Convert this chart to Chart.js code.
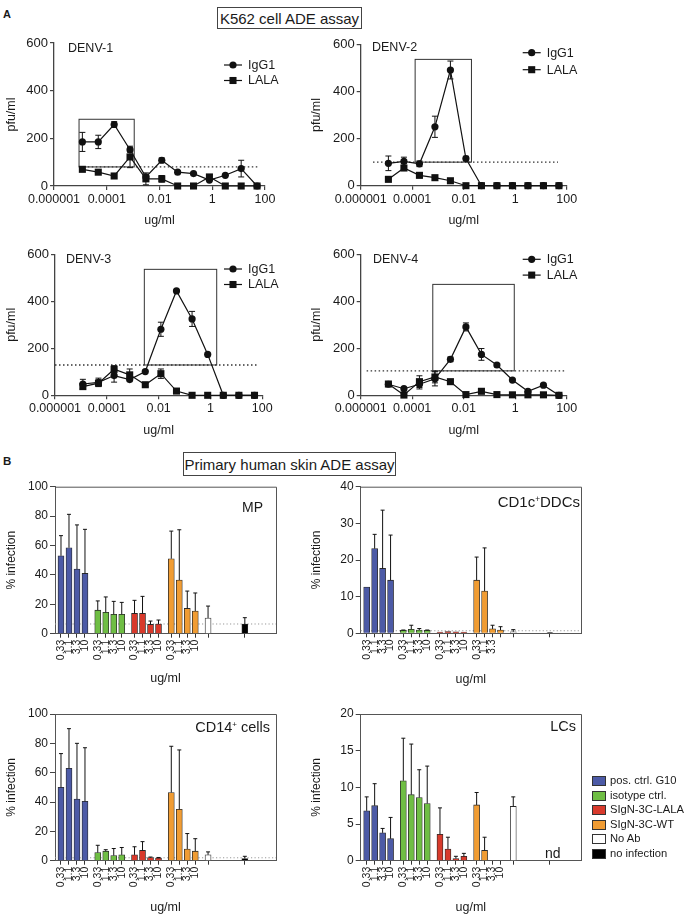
<!DOCTYPE html>
<html><head><meta charset="utf-8">
<script src="https://cdn.jsdelivr.net/npm/chart.js@4.4.1/dist/chart.umd.min.js"></script>
<style>
html,body{margin:0;padding:0;background:#fff}
body{width:685px;height:915px;position:relative;overflow:hidden;font-family:'Liberation Sans',Arial,Helvetica,sans-serif;color:#1a1a1a}
canvas{position:absolute;z-index:1}
.t{position:absolute;white-space:nowrap;line-height:1;z-index:2}
.hbox{position:absolute;border:1px solid #444;box-sizing:border-box;font-size:15px;display:flex;align-items:center;justify-content:center;z-index:2;background:#fff}
.lg{position:absolute;left:592px;z-index:2;font-size:11.2px;display:flex;align-items:center;height:14px;white-space:nowrap;line-height:1}
.lg .sw{display:inline-block;width:12px;height:8px;border:1px solid #333;margin-right:4px}
.sup{font-size:0.55em;vertical-align:0.6em}
</style></head><body>
<div class="t" style="left:3px;top:9px;font-size:11px;font-weight:bold">A</div>
<div class="hbox" style="left:217px;top:7px;width:145px;height:22px">K562 cell ADE assay</div>
<div class="t" style="left:3px;top:456px;font-size:11.5px;font-weight:bold">B</div>
<div class="hbox" style="left:183px;top:452px;width:213px;height:24px">Primary human skin ADE assay</div>

<div class="t" style="left:68px;top:41.6px;font-size:12.5px">DENV-1</div>
<div class="t" style="left:372px;top:41.4px;font-size:12.5px">DENV-2</div>
<div class="t" style="left:66px;top:252.9px;font-size:12.5px">DENV-3</div>
<div class="t" style="left:373px;top:252.9px;font-size:12.5px">DENV-4</div>

<div class="t" style="right:422px;top:499.6px;font-size:14px">MP</div>
<div class="t" style="right:105px;top:493.7px;font-size:15px">CD1c<span class="sup">+</span>DDCs</div>
<div class="t" style="right:415px;top:720px;font-size:14.5px">CD14<span class="sup">+</span> cells</div>
<div class="t" style="right:109px;top:719px;font-size:14.5px">LCs</div>
<div class="t" style="left:545px;top:846px;font-size:14px">nd</div>
<div id="legB"></div>

<script>
// ---------- Panel A data (K562 ADE assay) ----------
const concentrations = [0.0000119, 0.0000477, 0.000191, 0.000763, 0.00305, 0.0122, 0.0488, 0.195, 0.781, 3.125, 12.5, 50];
const logTickLabels = ['0.000001', '0.0001', '0.01', '1', '100'];

const denv1IgG1    = [185, 185, 258, 152, 38, 108, 58, 52, 25, 45, 73, 0];
const denv1IgG1Err = [40, 28, 12, 10, 0, 10, 0, 0, 0, 0, 35, 0];
const denv1LALA    = [70, 58, 42, 122, 30, 30, 0, 0, 38, 0, 0, 0];
const denv1LALAErr = [0, 0, 0, 45, 25, 14, 0, 0, 10, 0, 0, 0];

const denv2IgG1    = [95, 103, 93, 250, 491, 115, 0, 0, 0, 0, 0, 0];
const denv2IgG1Err = [31, 18, 12, 45, 38, 10, 0, 0, 0, 0, 0, 0];
const denv2LALA    = [27, 75, 44, 34, 21, 0, 0, 0, 0, 0, 0, 0];
const denv2LALAErr = [0, 0, 10, 0, 0, 0, 0, 0, 0, 0, 0, 0];

const denv3IgG1    = [48, 55, 84, 67, 101, 281, 444, 325, 174, 0, 0, 0];
const denv3IgG1Err = [20, 18, 28, 0, 0, 30, 0, 32, 0, 0, 0, 0];
const denv3LALA    = [37, 52, 111, 87, 45, 92, 18, 0, 0, 0, 0, 0];
const denv3LALAErr = [12, 12, 15, 25, 8, 20, 0, 0, 0, 0, 0, 0];

const denv4IgG1    = [47, 28, 47, 70, 153, 291, 174, 129, 65, 17, 43, 0];
const denv4IgG1Err = [0, 0, 20, 30, 10, 17, 25, 0, 0, 0, 0, 0];
const denv4LALA    = [48, 1, 58, 78, 58, 3, 17, 3, 2, 2, 2, 0];
const denv4LALAErr = [0, 0, 25, 25, 0, 0, 0, 0, 0, 0, 0, 0];

// background cut-off (no-antibody level) and enhancement windows
const denvCutoff = [80, 100, 129, 104];
const denvWindows = [
  {x0: 8.9e-6, x1: 1.1e-3, y0: 80,  y1: 280},
  {x0: 1.3e-4, x1: 0.02,   y0: 100, y1: 536},
  {x0: 2.8e-3, x1: 1.74,   y0: 129, y1: 536},
  {x0: 6.3e-4, x1: 0.92,   y0: 104, y1: 472}
];

// ---------- Panel B data (primary human skin ADE assay) ----------
const groupNames = ['pos. ctrl. G10', 'isotype ctrl.', 'SIgN-3C-LALA', 'SIgN-3C-WT', 'No Ab', 'no infection'];
const concLabels = ['0.33', '1.1', '3.3', '10'];
const cd1cWtLabels = ['0.33', '1.1', '3.3', ''];

const mpMean = [53, 58.5, 44, 41,   16, 14.5, 13.2, 13.2,   13.8, 13.8, 6.3, 6.6,   51, 36.5, 17.2, 15.4,   10.7, 6.6];
const mpSD   = [13.7, 22.7, 30, 30,  6.3, 10.5, 8.8, 8.1,   8.9, 11.6, 2.3, 2.7,   18.8, 34.2, 11.8, 12.3,  8.1, 4.3];

const cd1cMean = [12.6, 23.1, 17.7, 14.5,  0.8, 1.1, 0.9, 0.8,  0.3, 0.5, 0.4, 0.3,  14.5, 11.5, 1.2, 0.9,  0.4, 0.2];
const cd1cSD   = [0, 3.9, 15.9, 12.3,     0.1, 1.1, 0.4, 0.1,  0, 0, 0, 0,          6.3, 11.8, 1.0, 0.9,   0.6, 0];

const cd14Mean = [50, 63, 42, 40.5,  5.5, 6.5, 3.5, 4,  4, 7, 2.2, 1.8,  46.5, 35, 8, 6.5,  4, 1.5];
const cd14SD   = [23, 27, 38, 36.5,  5, 1, 4.8, 5,      5.5, 6, 0.3, 0.4, 31.5, 40.5, 10.5, 8.5, 2, 1.5];

const lcMean = [6.8, 7.5, 3.8, 3.0,  10.9, 9.0, 8.6, 7.8,  3.6, 1.6, 0.3, 0.6,  7.6, 1.4, null, null,  7.4, null];
const lcSD   = [1.9, 3.0, 0.6, 2.9,  5.8, 6.9, 3.8, 5.1,   3.6, 1.6, 0.3, 0.4,  1.7, 1.8, 0, 0,        1.3, 0];

const skinCutoff = {mp: 6.6, cd1c: 0.7, cd14: 2, lc: null};

// ---------- styling ----------
const FONT = "'Liberation Sans', Arial, Helvetica, sans-serif";
const groupColors = ['#4c5aa6', '#6fbe44', '#d83a2c', '#f09c33', '#ffffff', '#000000'];
Chart.defaults.font.family = FONT;
Chart.defaults.color = '#1a1a1a';
Chart.defaults.animation = false;
Chart.defaults.responsive = false;
Chart.defaults.maintainAspectRatio = false;
Chart.defaults.devicePixelRatio = 1;
Chart.defaults.plugins.legend.display = false;
Chart.defaults.plugins.tooltip.enabled = false;

function makeCanvas(left, top, w, h) {
  const c = document.createElement('canvas');
  c.width = w; c.height = h;
  c.style.left = left + 'px'; c.style.top = top + 'px';
  c.style.width = w + 'px'; c.style.height = h + 'px';
  document.body.appendChild(c);
  return c;
}

function drawMarker(ctx, style, r, x, y) {
  ctx.beginPath();
  if (style === 'rect') {
    const s = r * Math.SQRT1_2;
    ctx.rect(x - s, y - s, 2 * s, 2 * s);
  } else {
    ctx.arc(x, y, r, 0, Math.PI * 2);
  }
  ctx.fill();
}

const errorBarPlugin = {
  id: 'errbars',
  afterDatasetsDraw(chart, args, o) {
    const ctx = chart.ctx, ys = chart.scales.y;
    chart.data.datasets.forEach((ds, di) => {
      if (!ds.errors) return;
      const meta = chart.getDatasetMeta(di);
      meta.data.forEach((el, i) => {
        const e = ds.errors[i];
        const raw = ds.data[i];
        const v = raw && typeof raw === 'object' ? raw.y : raw;
        if (!e || v == null) return;
        const x = el.x;
        const yTop = ys.getPixelForValue(v + e);
        const yBot = o.both ? ys.getPixelForValue(Math.max(v - e, 0)) : ys.getPixelForValue(v);
        ctx.save();
        ctx.strokeStyle = '#111'; ctx.lineWidth = 1;
        ctx.beginPath();
        ctx.moveTo(x, yTop); ctx.lineTo(x, yBot);
        ctx.moveTo(x - o.cap, yTop); ctx.lineTo(x + o.cap, yTop);
        if (o.both) { ctx.moveTo(x - o.cap, yBot); ctx.lineTo(x + o.cap, yBot); }
        ctx.stroke();
        ctx.restore();
      });
    });
  }
};

const annotPlugin = {
  id: 'annot',
  beforeDatasetsDraw(chart, args, o) {
    const {ctx, chartArea} = chart;
    const xs = chart.scales.x, ys = chart.scales.y;
    ctx.save();
    if (o.cutoff != null) {
      const x0 = o.from != null ? xs.getPixelForValue(o.from) : chartArea.left;
      const x1 = o.to != null ? xs.getPixelForValue(o.to) : chartArea.right;
      const yy = ys.getPixelForValue(o.cutoff);
      ctx.setLineDash([o.dot, o.gap]);
      ctx.strokeStyle = o.dotColor; ctx.lineWidth = o.dotWidth;
      ctx.beginPath(); ctx.moveTo(x0, yy); ctx.lineTo(x1, yy); ctx.stroke();
      ctx.setLineDash([]);
    }
    if (o.win) {
      const w = o.win;
      const bx0 = xs.getPixelForValue(w.x0), bx1 = xs.getPixelForValue(w.x1);
      const by0 = ys.getPixelForValue(w.y0), by1 = ys.getPixelForValue(w.y1);
      ctx.strokeStyle = '#333'; ctx.lineWidth = 1;
      ctx.strokeRect(bx0, by1, bx1 - bx0, by0 - by1);
    }
    ctx.restore();
  }
};

const lineLegendPlugin = {
  id: 'lineLegend',
  afterDraw(chart, args, o) {
    const ctx = chart.ctx;
    chart.data.datasets.forEach((ds, i) => {
      const yy = o.y + i * o.dy;
      ctx.save();
      ctx.strokeStyle = '#111'; ctx.fillStyle = '#111'; ctx.lineWidth = 1.2;
      ctx.beginPath(); ctx.moveTo(o.x, yy); ctx.lineTo(o.x + 18, yy); ctx.stroke();
      drawMarker(ctx, ds.pointStyle, ds.pointRadius, o.x + 9, yy);
      ctx.font = '12.5px ' + FONT;
      ctx.textBaseline = 'middle';
      ctx.fillStyle = '#1a1a1a';
      ctx.fillText(ds.label, o.x + 24, yy + 0.5);
      ctx.restore();
    });
  }
};

const framePlugin = {
  id: 'frame',
  afterDatasetsDraw(chart) {
    const {ctx, chartArea: a} = chart;
    ctx.save();
    ctx.strokeStyle = '#555'; ctx.lineWidth = 1;
    ctx.beginPath();
    ctx.moveTo(a.left, a.top + 0.5); ctx.lineTo(a.right + 0.5, a.top + 0.5); ctx.lineTo(a.right + 0.5, a.bottom);
    ctx.stroke();
    ctx.restore();
  }
};

function denvChart(idx, left, top, w, h, area, ig, igErr, la, laErr, legend, yTitlePad) {
  const canvas = makeCanvas(left, top, w, h);
  const mk = (label, vals, errs, style, r) => ({
    label, data: concentrations.map((c, i) => ({x: c, y: vals[i]})), errors: errs,
    pointStyle: style, pointRadius: r, pointBorderWidth: 0,
    borderColor: '#111', backgroundColor: '#111', pointBackgroundColor: '#111',
    borderWidth: 1.2, tension: 0, clip: false
  });
  new Chart(canvas, {
    type: 'line',
    data: {datasets: [mk('IgG1', ig, igErr, 'circle', 3.6), mk('LALA', la, laErr, 'rect', 5)]},
    options: {
      layout: {padding: {left: 0, top: area[1], right: w - area[2], bottom: 0}},
      scales: {
        x: {
          type: 'logarithmic', min: 1e-6, max: 100,
          afterBuildTicks: a => { a.ticks = logTickLabels.map(v => ({value: Number(v)})); },
          afterFit: s => { s.height = h - area[3]; },
          ticks: {callback: (v, i) => logTickLabels[i], autoSkip: false, maxRotation: 0, minRotation: 0, padding: 2, font: {size: 12.5}, color: '#1a1a1a'},
          grid: {drawOnChartArea: false, drawTicks: true, tickLength: 4, color: '#444', lineWidth: 1.2},
          border: {display: true, color: '#444', width: 1.3},
          title: {display: true, text: 'ug/ml', font: {size: 12.5}, padding: {top: 0, bottom: 7}, color: '#1a1a1a'}
        },
        y: {
          min: 0, max: 600,
          afterFit: s => { s.width = area[0]; },
          ticks: {stepSize: 200, padding: 2, font: {size: 13}, color: '#1a1a1a'},
          grid: {drawOnChartArea: false, drawTicks: true, tickLength: 4, color: '#444', lineWidth: 1.2},
          border: {display: true, color: '#444', width: 1.3},
          title: {display: true, text: 'pfu/ml', font: {size: 12.5}, padding: {top: yTitlePad, bottom: 0}, color: '#1a1a1a'}
        }
      },
      plugins: {
        errbars: {both: true, cap: 3},
        annot: {cutoff: denvCutoff[idx], from: legend.cutFrom, to: legend.cutTo, dot: 1.5, gap: 2.5, dotColor: '#333', dotWidth: 1.3, win: denvWindows[idx]},
        lineLegend: {x: legend.x, y: legend.y, dy: legend.dy}
      }
    },
    plugins: [annotPlugin, errorBarPlugin, lineLegendPlugin]
  });
}

const groupStride = 4.6;
function barX(k) { return k < 16 ? Math.floor(k / 4) * groupStride + (k % 4) : (k - 12) * groupStride; }
function barColor(k) { return groupColors[k < 16 ? Math.floor(k / 4) : k - 12]; }

function skinChart(left, top, w, h, area, means, sds, yMax, yStep, cutoff, tickLabels, yTitlePad, xTitlePad) {
  const canvas = makeCanvas(left, top, w, h);
  const positions = means.map((v, k) => barX(k));
  new Chart(canvas, {
    type: 'bar',
    data: {datasets: [{
      data: means.map((v, k) => ({x: positions[k], y: v})),
      errors: sds,
      backgroundColor: means.map((v, k) => barColor(k)),
      borderColor: '#2a2a2a', borderWidth: 0.8, barThickness: 6, clip: false
    }]},
    options: {
      layout: {padding: {left: 0, top: area[1], right: w - area[2], bottom: 0}},
      scales: {
        x: {
          type: 'linear', min: -0.75, max: 26.9, offset: false,
          afterBuildTicks: a => { a.ticks = positions.map(v => ({value: v})); },
          afterFit: s => { s.height = h - area[3]; },
          ticks: {callback: (v, i) => tickLabels[i], autoSkip: false, maxRotation: 90, minRotation: 90, padding: 2, font: {size: 10.5}, color: '#1a1a1a'},
          grid: {offset: false, drawOnChartArea: false, drawTicks: true, tickLength: 4, color: '#333', lineWidth: 1},
          border: {display: true, color: '#555', width: 1},
          title: {display: true, text: 'ug/ml', font: {size: 12.5}, padding: {top: 0, bottom: xTitlePad}, color: '#1a1a1a'}
        },
        y: {
          min: 0, max: yMax,
          afterFit: s => { s.width = area[0]; },
          ticks: {stepSize: yStep, padding: 2, font: {size: 12}, color: '#1a1a1a'},
          grid: {drawOnChartArea: false, drawTicks: true, tickLength: 5, color: '#444', lineWidth: 1},
          border: {display: true, color: '#555', width: 1},
          title: {display: true, text: '% infection', font: {size: 12}, padding: {top: yTitlePad, bottom: 0}, color: '#1a1a1a'}
        }
      },
      plugins: {
        errbars: {both: false, cap: 2},
        annot: {cutoff: cutoff, dot: 1.2, gap: 2.3, dotColor: '#999', dotWidth: 1}
      }
    },
    plugins: [annotPlugin, errorBarPlugin, framePlugin]
  });
}

const stdLabels = [...concLabels, ...concLabels, ...concLabels, ...concLabels, '', ''];
const cd1cLabels = [...concLabels, ...concLabels, ...concLabels, ...cd1cWtLabels, '', ''];

denvChart(0, 0, 30, 340, 205, [54, 13, 265, 156], denv1IgG1, denv1IgG1Err, denv1LALA, denv1LALAErr,
  {x: 224, y: 35, dy: 15.5, cutFrom: 9.5e-6, cutTo: 63}, 4.5);
denvChart(1, 300, 30, 385, 205, [60.7, 14.3, 266.7, 155.7], denv2IgG1, denv2IgG1Err, denv2LALA, denv2LALAErr,
  {x: 222.7, y: 22.7, dy: 17, cutFrom: 3e-6, cutTo: 46}, 9.2);
denvChart(2, 0, 240, 340, 205, [55, 14.3, 262.3, 155.3], denv3IgG1, denv3IgG1Err, denv3LALA, denv3LALAErr,
  {x: 224, y: 29, dy: 15.5, cutFrom: 1e-6, cutTo: 69}, 4.5);
denvChart(3, 300, 240, 385, 205, [60.7, 14.3, 266.7, 155.3], denv4IgG1, denv4IgG1Err, denv4LALA, denv4LALAErr,
  {x: 222.7, y: 19.3, dy: 15.8, cutFrom: 1.7e-6, cutTo: 85}, 9.2);

skinChart(0, 470, 340, 220, [55, 16.7, 276, 163.7], mpMean, mpSD, 100, 20, skinCutoff.mp, stdLabels, 4.8, 4);
skinChart(300, 470, 385, 220, [60.7, 16.7, 281, 163.3], cd1cMean, cd1cSD, 40, 10, skinCutoff.cd1c, cd1cLabels, 9.5, 3);
skinChart(0, 700, 340, 215, [55, 14, 276, 160.7], cd14Mean, cd14SD, 100, 20, skinCutoff.cd14, stdLabels, 4.8, 0);
skinChart(300, 700, 385, 215, [60.7, 14, 281, 160.7], lcMean, lcSD, 20, 5, skinCutoff.lc, stdLabels, 9.5, 0);

// legend for panel B
const legB = document.getElementById('legB');
groupNames.forEach((name, i) => {
  const row = document.createElement('div');
  row.className = 'lg';
  row.style.top = (774 + i * 14.5) + 'px';
  row.innerHTML = '<span class="sw" style="background:' + groupColors[i] + '"></span>' + name;
  legB.appendChild(row);
});
</script>
</body></html>
